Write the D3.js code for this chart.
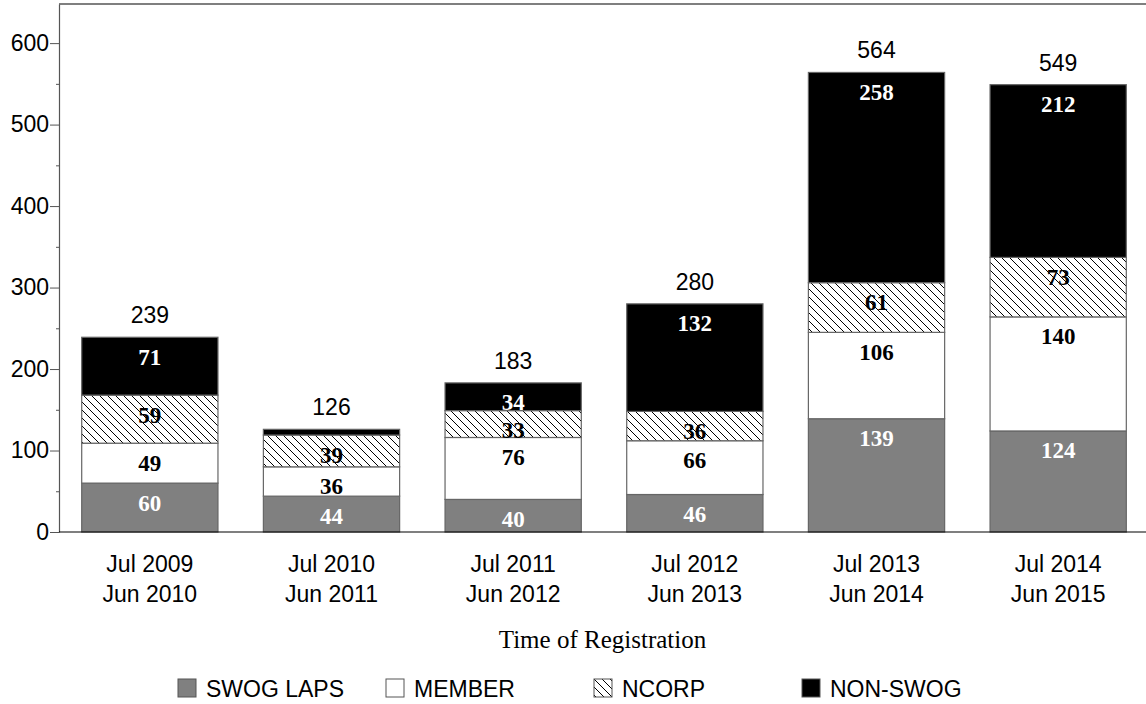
<!DOCTYPE html>
<html>
<head>
<meta charset="utf-8">
<script src="https://cdn.jsdelivr.net/npm/d3@7"></script>
<style>
  body { margin: 0; background: #fff; }
  svg { display: block; }
  .sans { font-family: "Liberation Sans", Arial, sans-serif; }
  .serif { font-family: "Liberation Serif", "Times New Roman", serif; }
</style>
</head>
<body>
<div id="chart"></div>
<script>
// data
const periods = [
    ["Jul 2009", "Jun 2010"],
    ["Jul 2010", "Jun 2011"],
    ["Jul 2011", "Jun 2012"],
    ["Jul 2012", "Jun 2013"],
    ["Jul 2013", "Jun 2014"],
    ["Jul 2014", "Jun 2015"]
];
const swogLaps = [60, 44, 40, 46, 139, 124];
const member   = [49, 36, 76, 66, 106, 140];
const ncorp    = [59, 39, 33, 36, 61, 73];
const nonSwog  = [71, 7, 34, 132, 258, 212];
const seriesNames = ["SWOG LAPS", "MEMBER", "NCORP", "NON-SWOG"];
const yTicks = [0, 100, 200, 300, 400, 500, 600];

const W = 1146, H = 704;
const plotLeft = 59, plotTop = 4, plotBottom = 532;

const rows = periods.map((p, i) => ({
    key: p.join(" "),
    lines: p,
    "SWOG LAPS": swogLaps[i],
    "MEMBER": member[i],
    "NCORP": ncorp[i],
    "NON-SWOG": nonSwog[i]
}));
rows.forEach(r => r.total = d3.sum(seriesNames, s => r[s]));

const svg = d3.select("#chart").append("svg")
    .attr("width", W)
    .attr("height", H);

// hatch pattern for NCORP
const defs = svg.append("defs");
const pat = defs.append("pattern")
    .attr("id", "hatch")
    .attr("patternUnits", "userSpaceOnUse")
    .attr("width", 8)
    .attr("height", 8);
pat.append("rect").attr("width", 8).attr("height", 8).attr("fill", "#fff");
pat.append("path")
    .attr("d", "M0,0L8,8M-2,6L2,10M6,-2L10,2")
    .attr("stroke", "#000")
    .attr("stroke-width", 1);

const fills = {
    "SWOG LAPS": "#808080",
    "MEMBER": "#fff",
    "NCORP": "url(#hatch)",
    "NON-SWOG": "#000"
};
const textColor = {
    "SWOG LAPS": "#fff",
    "MEMBER": "#000",
    "NCORP": "#000",
    "NON-SWOG": "#fff"
};

const x = d3.scaleBand()
    .domain(rows.map(d => d.key))
    .range([plotLeft, plotLeft + 6 * 181.67])
    .paddingInner(0.25)
    .paddingOuter(0.125);

const y = d3.scaleLinear()
    .domain([0, 648])
    .range([plotBottom, plotTop]);

// frame line on top
svg.append("line")
    .attr("x1", plotLeft).attr("x2", W)
    .attr("y1", y(648)).attr("y2", y(648))
    .attr("stroke", "#000").attr("stroke-width", 1.2);

// y axis with minor ticks
const minor = d3.range(50, 650, 100);
svg.append("g")
    .attr("transform", `translate(${plotLeft},0)`)
    .call(d3.axisLeft(y).tickValues(minor).tickSize(3).tickFormat(""))
    .call(g => g.select(".domain").remove())
    .selectAll("line").attr("stroke", "#555");

const yAxis = svg.append("g")
    .attr("transform", `translate(${plotLeft},0)`)
    .call(d3.axisLeft(y).tickValues(yTicks).tickSize(9).tickPadding(1).tickSizeOuter(0));
yAxis.attr("font-family", "Liberation Sans, Arial, sans-serif").attr("font-size", 23);
yAxis.select(".domain").attr("stroke", "#555").attr("stroke-width", 1.2);
yAxis.selectAll(".tick line").attr("stroke", "#555");
yAxis.selectAll("text").attr("fill", "#000");

// stacked bars
const stacked = d3.stack().keys(seriesNames)(rows);

const layers = svg.selectAll(".layer")
    .data(stacked)
    .enter().append("g")
    .attr("class", "layer");

layers.selectAll("rect")
    .data(s => s.map(d => Object.assign(d, { series: s.key })))
    .enter().append("rect")
    .attr("x", d => x(d.data.key))
    .attr("width", x.bandwidth())
    .attr("y", d => y(d[1]))
    .attr("height", d => y(d[0]) - y(d[1]))
    .attr("fill", d => fills[d.series])
    .attr("stroke", "#666")
    .attr("stroke-width", 1.2);

// values inside segments (bold serif)
layers.selectAll("text")
    .data(s => s.filter(d => d[1] - d[0] >= 10))
    .enter().append("text")
    .attr("class", "serif")
    .attr("x", d => x(d.data.key) + x.bandwidth() / 2)
    .attr("y", d => y(d[1]) + 27.5)
    .attr("text-anchor", "middle")
    .attr("font-size", 23)
    .attr("font-weight", "bold")
    .attr("fill", d => textColor[d.series])
    .text(d => d[1] - d[0]);

// bottom axis line
svg.append("line")
    .attr("x1", plotLeft).attr("x2", W)
    .attr("y1", y(0)).attr("y2", y(0))
    .attr("stroke", "#000").attr("stroke-width", 1.2);

// totals above bars
svg.selectAll(".total")
    .data(rows)
    .enter().append("text")
    .attr("class", "total sans")
    .attr("x", d => x(d.key) + x.bandwidth() / 2)
    .attr("y", d => y(d.total) - 14)
    .attr("text-anchor", "middle")
    .attr("font-size", 23)
    .text(d => d.total);

// category labels on two lines
const cat = svg.selectAll(".cat")
    .data(rows)
    .enter().append("text")
    .attr("class", "cat sans")
    .attr("text-anchor", "middle")
    .attr("font-size", 23);
cat.selectAll("tspan")
    .data(d => d.lines.map((t, i) => ({ t, i, cx: x(d.key) + x.bandwidth() / 2 })))
    .enter().append("tspan")
    .attr("x", d => d.cx)
    .attr("y", d => 572 + d.i * 30)
    .text(d => d.t);

// axis title
svg.append("text")
    .attr("class", "serif")
    .attr("x", (plotLeft + W) / 2)
    .attr("y", 648)
    .attr("text-anchor", "middle")
    .attr("font-size", 25)
    .text("Time of Registration");

// legend
const legend = svg.selectAll(".legend")
    .data(seriesNames)
    .enter().append("g")
    .attr("class", "legend")
    .attr("transform", (d, i) => `translate(${178 + i * 208},679)`);
legend.append("rect")
    .attr("width", 18)
    .attr("height", 18)
    .attr("fill", d => fills[d])
    .attr("stroke", "#555")
    .attr("stroke-width", 1);
legend.append("text")
    .attr("class", "sans")
    .attr("x", 28)
    .attr("y", 18)
    .attr("font-size", 23)
    .text(d => d);
</script>
</body>
</html>
